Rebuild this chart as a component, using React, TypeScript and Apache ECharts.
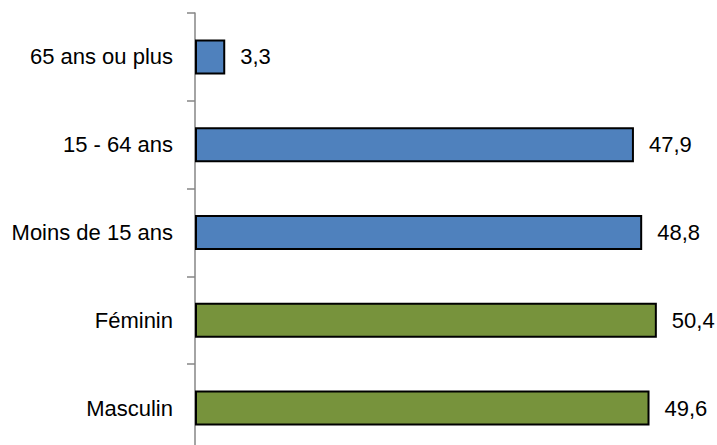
import React, { useEffect, useRef } from "react";
import * as echarts from "echarts";

// Categories listed top to bottom
const categories = ["65 ans ou plus", "15 - 64 ans", "Moins de 15 ans", "Féminin", "Masculin"];
const values = [3.3, 47.9, 48.8, 50.4, 49.6];
// "age" bars are blue, "sex" bars are green
const groups = ["age", "age", "age", "sex", "sex"];

const groupColors: Record<string, string> = {
  age: "#4F81BD",
  sex: "#77933C",
};

const FONT = "'Liberation Sans', Arial, sans-serif";

export default function App() {
  const ref = useRef<HTMLDivElement>(null);

  useEffect(() => {
    if (!ref.current) return;
    const chart = echarts.init(ref.current, null, { renderer: "svg" });
    chart.setOption({
      animation: false,
      backgroundColor: "#ffffff",
      // the plot runs a little past the bottom edge of the window
      grid: { left: 195, right: 18, top: 13, bottom: 8, containLabel: false },
      xAxis: {
        type: "value",
        min: 0,
        max: 55,
        show: false,
      },
      yAxis: {
        type: "category",
        inverse: true,
        data: categories,
        axisLine: { show: true, lineStyle: { color: "#868686", width: 1.5 } },
        axisTick: { show: true, length: 8, lineStyle: { color: "#868686", width: 1.5 } },
        axisLabel: {
          margin: 22,
          fontSize: 22,
          color: "#000000",
          fontFamily: FONT,
        },
        splitLine: { show: false },
      },
      series: [
        {
          type: "bar",
          barWidth: 35,
          data: values.map((v, i) => ({
            value: v,
            itemStyle: {
              color: groupColors[groups[i]],
              borderColor: "#000000",
              borderWidth: 2,
            },
          })),
          label: {
            show: true,
            position: "right",
            distance: 15,
            fontSize: 22,
            color: "#000000",
            fontFamily: FONT,
            formatter: (p: any) => String(p.value.toFixed(1)).replace(".", ","),
          },
        },
      ],
    });
    return () => chart.dispose();
  }, []);

  return (
    <div style={{ position: "fixed", left: 0, top: 0, width: 717, height: 445, overflow: "hidden" }}>
      <div ref={ref} style={{ width: 717, height: 460 }} />
    </div>
  );
}
